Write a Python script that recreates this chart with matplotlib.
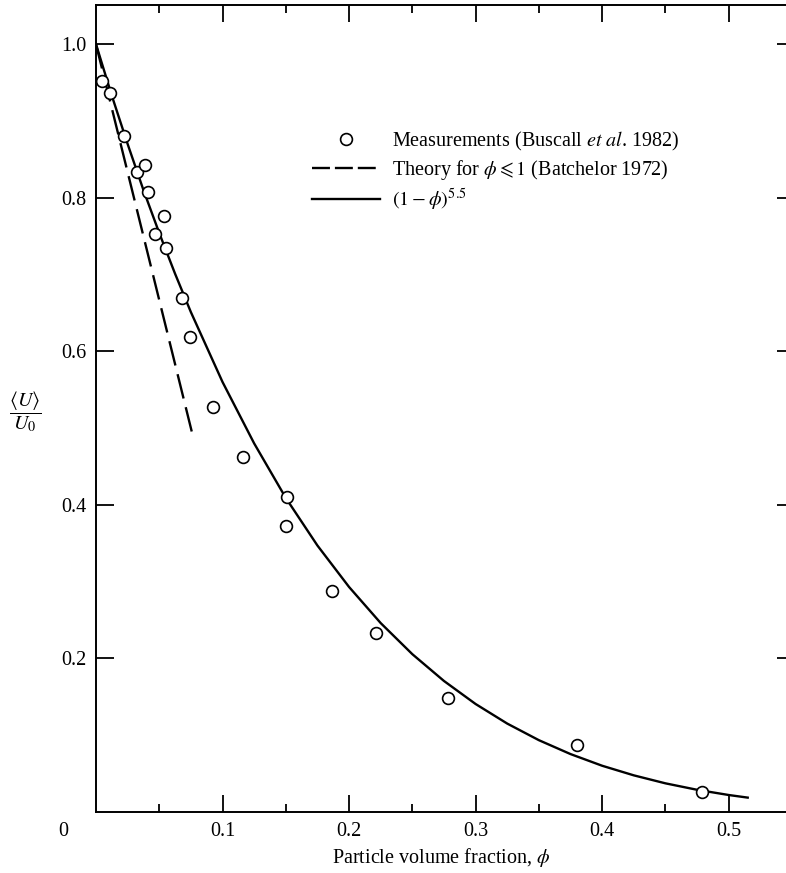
import numpy as np
import matplotlib
matplotlib.use("Agg")
import matplotlib.pyplot as plt
from matplotlib.lines import Line2D


#--------------------------------------------------------------------------------------------------
# Data.
#--------------------------------------------------------------------------------------------------
#
# Measured hindered settling velocity (Buscall et al. 1982).
measPhi = [0.0045, 0.011, 0.022, 0.0327, 0.0388, 0.0409, 0.0467, 0.054, 0.0554, 0.068,
           0.0744, 0.0926, 0.1163, 0.150, 0.151, 0.1864, 0.2213, 0.278, 0.380, 0.479]
measU = [0.952, 0.937, 0.880, 0.834, 0.842, 0.807, 0.753, 0.776, 0.734, 0.670,
         0.619, 0.527, 0.462, 0.372, 0.410, 0.288, 0.233, 0.148, 0.087, 0.026]

# Dilute theory (Batchelor 1972), a straight dashed segment.
theoryPhi = [0.0, 0.0765]
theoryU = [1.0, 0.49]

# The (1 - phi)^5.5 curve.
curvePhi = [0.0, 0.0125, 0.025, 0.0375, 0.05, 0.0625, 0.075, 0.1, 0.125, 0.15, 0.175, 0.2,
            0.225, 0.25, 0.275, 0.3, 0.325, 0.35, 0.375, 0.4, 0.425, 0.45, 0.475, 0.5, 0.515]
curveU = [1.0, 0.933, 0.870, 0.810, 0.754, 0.701, 0.651, 0.560, 0.480, 0.409, 0.347, 0.293,
          0.246, 0.2055, 0.1706, 0.1406, 0.1151, 0.0935, 0.0754, 0.0602, 0.0477, 0.0373,
          0.0289, 0.0221, 0.0187]

xTicks = [0.1, 0.2, 0.3, 0.4, 0.5]
xTickLabels = ["0.1", "0.2", "0.3", "0.4", "0.5"]
yTicks = [0.2, 0.4, 0.6, 0.8, 1.0]
yTickLabels = ["0.2", "0.4", "0.6", "0.8", "1.0"]

measLabel = r'Measurements (Buscall $\mathit{et\ al}$. 1982)'
theoryLabel = r'Theory for $\phi \leqslant 1$ (Batchelor 1972)'
curveLabel = r'$(1-\phi)^{5.5}$'


#--------------------------------------------------------------------------------------------------
# Plot.
#--------------------------------------------------------------------------------------------------
#
plt.rcParams['font.family'] = ['Liberation Serif', 'DejaVu Serif']
plt.rcParams['mathtext.fontset'] = 'stix'
plt.rcParams['font.size'] = 14.5

fig = plt.figure(figsize=(7.86, 8.73), dpi=100)
ax = fig.add_axes([0.1221, 0.0699, 0.8791, 0.9244])

ax.plot(curvePhi, curveU, color='black', linewidth=1.7, zorder=2)
ax.plot(theoryPhi, theoryU, color='black', linewidth=1.7, dashes=(10.6, 3.8), zorder=2)
ax.plot(measPhi, measU, linestyle='none', marker='o', markersize=8.5, markerfacecolor='white',
        markeredgecolor='black', markeredgewidth=1.2, zorder=3)

ax.set_xlim(0, 0.546)
ax.set_ylim(0, 1.051)

# Ticks: inward on every side, minor ticks only along x.
ax.set_xticks(xTicks)
ax.set_xticklabels(xTickLabels)
ax.set_xticks(np.arange(0.05, 0.55, 0.1), minor=True)
ax.set_yticks(yTicks)
ax.set_yticklabels(yTickLabels)
ax.tick_params(axis='x', which='major', direction='in', length=12, width=1.3, top=True, pad=7)
ax.tick_params(axis='x', which='minor', direction='in', length=6, width=1.3, top=True)
ax.tick_params(axis='y', which='major', direction='in', length=13, width=1.3, right=False, pad=7)

rightAxis = ax.secondary_yaxis('right')
rightAxis.set_yticks(yTicks)
rightAxis.tick_params(direction='in', length=7, width=1.3, labelright=False)
rightAxis.spines['right'].set_visible(False)

for side in ['left', 'bottom', 'top']:
    ax.spines[side].set_linewidth(1.4)
ax.spines['right'].set_visible(False)

# Shared origin label.
ax.annotate("0", xy=(0, 0), xycoords='data', xytext=(-23.8, -14), textcoords='offset points',
            ha='center', va='center')

ax.set_xlabel(r'Particle volume fraction, $\phi$', labelpad=4)
fig.text(25 / 786, 1 - 412 / 873, r'$\dfrac{\langle U\rangle}{U_0}$', ha='center', va='center')

# Legend keys (the dashed key uses shorter dashes, as in the original).
measKey = Line2D([], [], linestyle='none', marker='o', markersize=8.5, markerfacecolor='white',
                 markeredgecolor='black', markeredgewidth=1.2)
theoryKey = Line2D([], [], color='black', linewidth=1.7, dashes=(7.6, 2.1))
curveKey = Line2D([], [], color='black', linewidth=1.7)
ax.legend([measKey, theoryKey, curveKey], [measLabel, theoryLabel, curveLabel], loc='upper left',
          bbox_to_anchor=(0.3126, 0.8455), frameon=False, borderpad=0, borderaxespad=0,
          handlelength=3.4, handletextpad=0.55, labelspacing=0.25)

plt.savefig("out.png", dpi=100)
